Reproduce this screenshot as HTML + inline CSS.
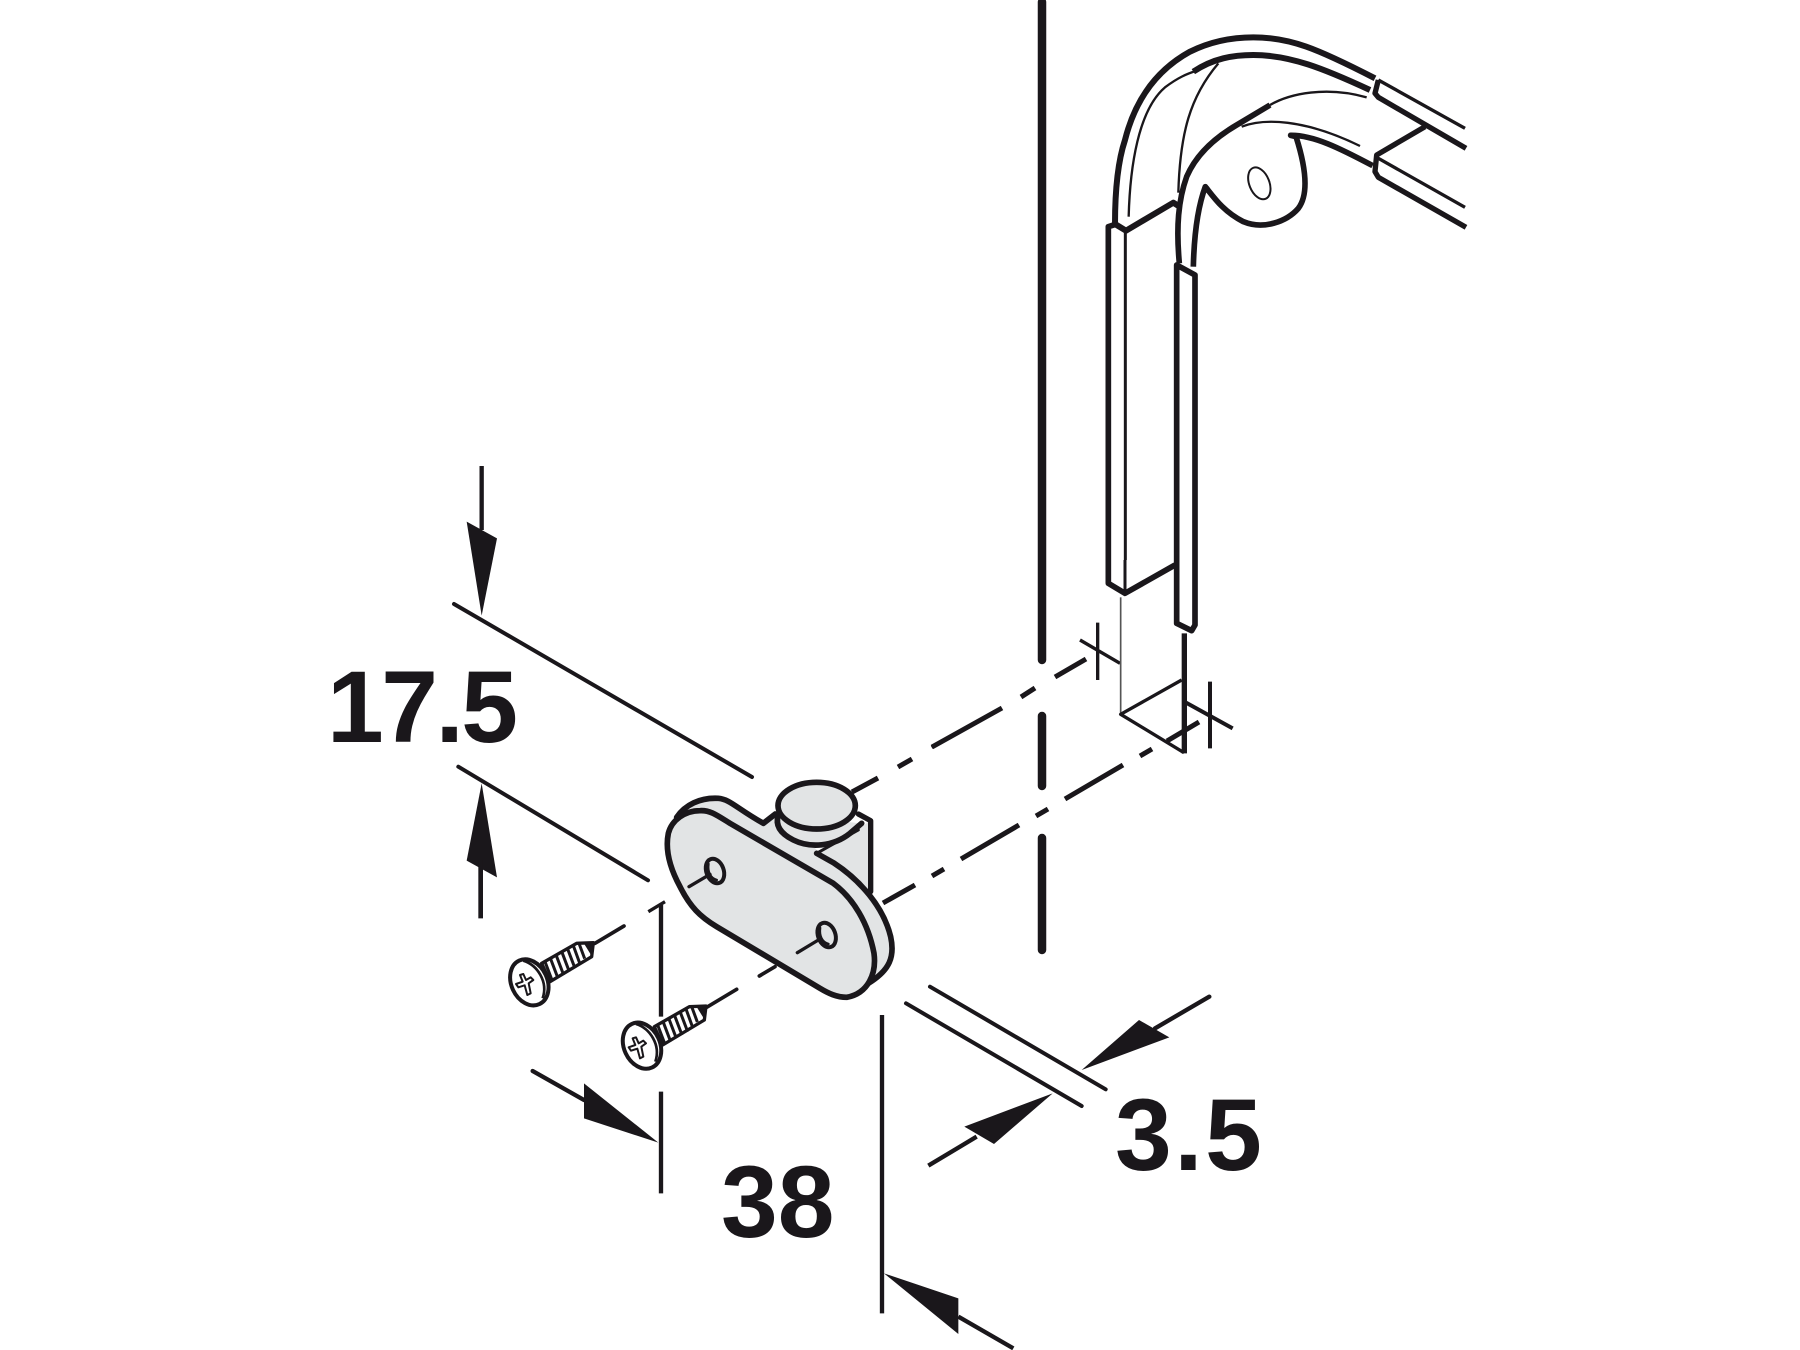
<!DOCTYPE html>
<html><head><meta charset="utf-8"><style>
html,body{margin:0;padding:0;background:#fff;width:1800px;height:1350px;overflow:hidden}
svg{display:block}
text{font-family:"Liberation Sans",sans-serif;font-weight:bold;fill:#1a171b}
</style></head><body>
<svg width="1800" height="1350" viewBox="0 0 1800 1350" xmlns="http://www.w3.org/2000/svg">
<defs>
<g id="screw" fill="none" stroke="#1a171b">
  <path d="M185,190L290,130L340,128L335,170L210,245Z" fill="#fff" stroke-width="10" stroke-linejoin="round"/>
  <path d="M195,185l22,58M212,177l22,58M229,167l22,58M246,157l22,58M263,147l22,58M280,137l20,55M297,130l17,46" stroke-width="9"/>
  <path d="M312,128L340,128L335,165Z" fill="#1a171b" stroke-width="3"/>
  <ellipse cx="148" cy="247" rx="54" ry="72" transform="rotate(-25 148 247)" fill="#fff" stroke-width="12"/>
  <path d="M130,182C172,195 205,245 188,295" stroke-width="8"/>
  <path d="M120,225L128,245L108,252L115,262L134,256L142,285L152,280L146,250L160,240L152,232L138,240L130,222Z" stroke-width="6" stroke-linejoin="round"/>
</g>
</defs>

<!-- vertical dash-dot panel line -->
<g stroke="#1a171b" stroke-width="8.5" stroke-linecap="round" fill="none">
  <path d="M1042,2V660M1042,716V786M1042,838V950"/>
</g>

<!-- dashed centre lines -->
<g stroke="#1a171b" stroke-width="5" fill="none">
  <path d="M852,792L878,778M898,767L912,759M932,747L1002,708M1021,697L1035,688M1055,677L1086,659"/>
  <path d="M883,903L915,885M932,876L944,869M961,859L1019,825M1036,816L1048,809M1065,799L1123,765M1140,756L1152,749M1167,741L1199,722"/>
</g>

<!-- frame -->
<g transform="translate(1050,0) scale(0.33333)" fill="none" stroke="#1a171b" stroke-linejoin="round">
  <path d="M195,672C195,560 205,480 225,420C255,300 320,210 420,155C480,125 540,112 610,112C720,112 800,145 975,235" stroke-width="18"/>
  <path d="M430,215C490,175 550,165 610,165C720,165 820,205 960,270" stroke-width="18"/>
  <path d="M236,650C240,500 265,330 345,262C385,232 410,222 440,212" stroke-width="7"/>
  <path d="M385,578C390,400 420,290 505,190" stroke-width="7"/>
  <path d="M195,672L228,692L370,608L392,622" stroke-width="18"/>
  <path d="M175,1680V680L200,672" stroke-width="17"/>
  <path d="M226,1680V695" stroke-width="9"/>
  <path d="M380,1680V795L435,825V1680" stroke-width="17"/>
  <path d="M388,790C378,680 385,600 410,530C440,460 500,410 560,375L660,315" stroke-width="17"/>
  <path d="M660,315C720,280 830,258 950,292" stroke-width="7"/>
  <path d="M575,380C640,355 760,355 930,438" stroke-width="7"/>
  <path d="M430,800C432,720 440,630 466,560C490,590 520,635 580,665C640,690 710,665 745,625C775,585 770,510 738,410L722,406C790,405 870,445 968,497" stroke-width="17"/>
  <ellipse cx="628" cy="550" rx="30" ry="50" transform="rotate(-22 628 550)" stroke-width="6"/>
  <path d="M985,240L975,280L985,292L1248,445" stroke-width="16"/>
  <path d="M1125,380L980,465L975,515L985,532L1248,682" stroke-width="16"/>
  <path d="M985,475L1245,622" stroke-width="10"/>
  <path d="M985,240L1245,385" stroke-width="10"/>
</g>

<!-- bottom of frame + ticks -->
<g transform="translate(1080,560) scale(0.33333)" fill="none" stroke="#1a171b" stroke-linejoin="round">
  <path d="M85,0V70L135,100L285,15" stroke-width="17"/>
  <path d="M135,0V100" stroke-width="9"/>
  <path d="M290,0V190L335,212L345,195V0" stroke-width="17"/>
  <path d="M0,240L120,310M53,188V360" stroke-width="10"/>
  <path d="M122,112V460" stroke-width="5" stroke="#555"/>
  <path d="M305,360L122,463L312,578" stroke-width="10"/>
  <path d="M313,220V580" stroke-width="16"/>
  <path d="M318,428L458,505M390,365V565" stroke-width="12"/>
</g>

<!-- dimension lines 17.5 -->
<g transform="translate(320,450) scale(0.33333)" stroke="#1a171b" fill="#1a171b">
  <path d="M402,462L1296,981" stroke-width="12" stroke-linecap="round"/>
  <path d="M415,950L984,1291" stroke-width="12" stroke-linecap="round"/>
  <path d="M485,48V240" stroke-width="13"/>
  <path d="M440,215L531,265L485,497Z" stroke="none"/>
  <path d="M485,1000L531,1282L440,1232Z" stroke="none"/>
  <path d="M482,1230V1405" stroke-width="14"/>
</g>
<text x="327" y="742" font-size="102" letter-spacing="-2.5">17.5</text>

<!-- bracket -->
<g transform="translate(620,740) scale(0.33333)" stroke="#1a171b" stroke-linejoin="round" stroke-linecap="round">
  <path d="M590,340L715,270L752,240V455L640,372Z" fill="#e2e4e5" stroke="none"/>
  <path d="M715,222L752,242V455" fill="none" stroke-width="16"/>
  <path d="M160,240C190,200 240,175 295,175C330,178 350,205 430,250L480,215L600,340L640,370C720,420 790,500 812,590C825,650 810,690 750,730L690,770L300,420Z" fill="#e2e4e5" stroke="none"/>
  <path d="M170,232C195,195 240,172 295,175C330,178 350,205 430,250L466,222" fill="none" stroke-width="17"/>
  <path d="M590,340L640,368C720,420 790,500 812,590C825,650 810,690 745,730" fill="none" stroke-width="17"/>
  <path d="M475,225C465,255 480,280 520,300C570,325 640,320 690,280L725,250" fill="#e2e4e5" stroke-width="17"/>
  <ellipse cx="590" cy="197" rx="116" ry="70" fill="#e2e4e5" stroke-width="17"/>
  <path d="M590,340L715,270" fill="none" stroke-width="9"/>
  <path d="M240,212C270,210 290,225 330,250L640,430C700,475 745,550 762,640C770,700 745,760 680,772C650,772 625,760 600,745L290,560C240,530 210,500 180,440C150,385 135,330 145,280C155,240 195,212 240,212Z" fill="#e2e4e5" stroke-width="17"/>
  <ellipse cx="285" cy="393" rx="26" ry="38" transform="rotate(-20 285 393)" fill="#e2e4e5" stroke-width="12"/>
  <path d="M265,372C262,395 270,415 290,420" fill="none" stroke-width="8"/>
  <path d="M207,440L270,403" fill="none" stroke-width="10"/>
  <ellipse cx="620" cy="585" rx="26" ry="38" transform="rotate(-20 620 585)" fill="#e2e4e5" stroke-width="12"/>
  <path d="M600,564C597,587 605,607 625,612" fill="none" stroke-width="8"/>
  <path d="M532,638L600,597" fill="none" stroke-width="10"/>
  <path d="M418,708L465,680" fill="none" stroke-width="11"/>
  <path d="M700,155L772,115M835,82L875,58M935,22L965,5" fill="none" stroke-width="11" stroke-linecap="butt"/>
</g>

<!-- screws and left dims -->
<g transform="translate(480,900) scale(0.33333)">
  <path d="M345,130L432,78M680,322L770,268" stroke="#1a171b" stroke-width="11" fill="none" stroke-linecap="round"/>
  <path d="M505,35L555,5" stroke="#1a171b" stroke-width="10" fill="none"/>
  <path d="M543,15V350M543,575V880" stroke="#1a171b" stroke-width="13" fill="none"/>
  <path d="M158,513L312,600" stroke="#1a171b" stroke-width="13" fill="none" stroke-linecap="round"/>
  <path d="M312,550L535,728L312,655Z" fill="#1a171b"/>
  <use href="#screw"/>
  <use href="#screw" x="338" y="190"/>
</g>

<!-- bottom right dims -->
<g transform="translate(870,980) scale(0.33333)" stroke="#1a171b" fill="#1a171b">
  <path d="M180,20L707,328M108,70L635,378" stroke-width="12" stroke-linecap="round"/>
  <path d="M36,105V1000" stroke-width="13"/>
  <path d="M1018,50L855,145" stroke-width="13" stroke-linecap="round"/>
  <path d="M635,270L807,120L898,172Z" stroke="none"/>
  <path d="M175,557L320,470" stroke-width="13"/>
  <path d="M548,340L283,440L372,492Z" stroke="none"/>
  <path d="M42,880L265,955V1062Z" stroke="none"/>
  <path d="M265,1010L430,1105" stroke-width="13"/>
</g>
<text x="721" y="1237" font-size="102">38</text>
<text x="1115" y="1170" font-size="102" letter-spacing="2.5">3.5</text>
</svg>
</body></html>
